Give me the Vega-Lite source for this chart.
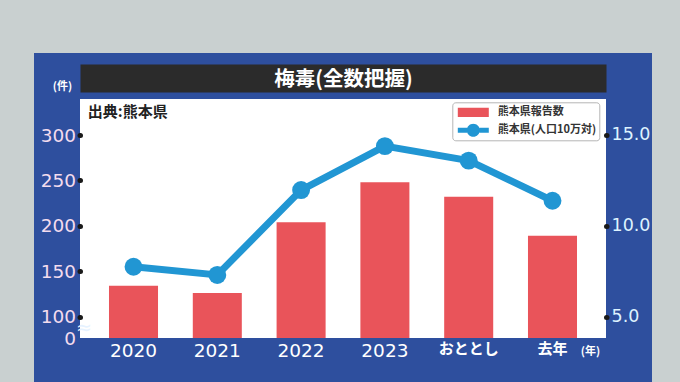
{
  "$schema": "https://vega.github.io/schema/vega-lite/v6.json",
  "autosize": "none",
  "width": 572,
  "height": 285,
  "padding": {"left": 57, "top": 76, "right": 51, "bottom": 21},
  "background": "#c9d0d0",
  "view": {"fill": "white", "stroke": "#2e4f9e", "strokeWidth": 46},
  "config": {"axis": {"grid": false}},
  "data": {"values": [
    {"year": "2020", "cases": 134, "rate": 7.75},
    {"year": "2021", "cases": 126, "rate": 7.3},
    {"year": "2022", "cases": 204, "rate": 11.97},
    {"year": "2023", "cases": 248, "rate": 14.39},
    {"year": "おととし", "cases": 232, "rate": 13.59},
    {"year": "去年", "cases": 189, "rate": 11.38}
  ]},
  "layer": [
    {
      "mark": {"type": "bar", "color": "#e9545a"},
      "encoding": {
        "x": {
          "field": "year", "type": "nominal",
          "scale": {"domain": ["2020", "2021", "2022", "2023", "おととし", "去年"], "range": [23, 549], "paddingInner": 0.415, "paddingOuter": 0.346},
          "axis": {
            "orient": "bottom", "offset": -23, "domain": false, "ticks": false, "labelAngle": 0,
            "labelColor": "white", "labelFont": "DejaVu Sans, Noto Sans CJK JP",
            "labelFontSize": {"condition": {"test": "datum.value == 'おととし' || datum.value == '去年'", "value": 15}, "value": 18.5},
            "labelFontWeight": {"condition": {"test": "datum.value == 'おととし' || datum.value == '去年'", "value": "bold"}, "value": "normal"},
            "labelPadding": 3,
            "title": "(年)", "titleX": 533, "titleY": 13, "titleAlign": "center", "titleBaseline": "middle", "titleAngle": 0,
            "titleColor": "white", "titleFont": "Noto Sans CJK JP", "titleFontSize": 11, "titleFontWeight": "bold"
          }
        },
        "y": {
          "field": "cases", "type": "quantitative",
          "scale": {"domain": [0, 100, 339.7], "range": [262, 240.7, 23], "zero": false, "nice": false},
          "axis": {
            "orient": "left", "offset": -23, "values": [0, 50, 100, 150, 200, 250, 300], "domain": false,
            "labelExpr": "datum.value == 50 ? '≈' : datum.label",
            "labelAlign": {"condition": {"test": "datum.value == 50", "value": "left"}, "value": "right"},
            "labelBaseline": "middle",
            "labelColor": {"condition": {"test": "datum.value == 50", "value": "#e6f2ff"}, "value": "#f3dcee"},
            "labelFont": "DejaVu Sans",
            "labelFontSize": {"condition": {"test": "datum.value == 50", "value": 19}, "value": 18.5},
            "labelPadding": 4, "labelOverlap": false, "labelFlush": false,
            "tickColor": {"condition": {"test": "datum.value == 0 || datum.value == 50", "value": "transparent"}, "value": "#1a1a1a"},
            "tickWidth": 5, "tickCap": "round", "tickSize": 0.5,
            "title": "(件)", "titleAngle": 0, "titleX": -18, "titleY": 10, "titleAlign": "center", "titleBaseline": "middle",
            "titleColor": "white", "titleFont": "Noto Sans CJK JP", "titleFontSize": 11, "titleFontWeight": "bold"
          }
        },
        "color": {
          "datum": "熊本県報告数", "type": "nominal",
          "scale": {"domain": ["熊本県報告数", "熊本県(人口10万対)"], "range": ["#e9545a", "#2196d3"]},
          "legend": {
            "orient": "none", "legendX": 395.3, "legendY": 26.3, "title": null, "direction": "vertical",
            "fillColor": "white", "strokeColor": "#b5b5b5", "cornerRadius": 3, "padding": 3,
            "clipHeight": 14, "rowPadding": 4, "symbolSize": 961, "symbolOffset": 2.5, "labelOffset": 9,
            "labelFont": "Noto Sans CJK JP", "labelFontSize": 11, "labelFontWeight": "bold", "labelColor": "#333333",
            "encode": {
              "symbols": {
                "update": {
                  "shape": {"signal": "datum.value === '熊本県報告数' ? 'M-1,-0.3H1V0.3H-1Z' : 'M-1,-0.16H-0.4V0.16H-1Z M0.4,-0.16H1V0.16H0.4Z M0.42,0A0.42,0.42 0 1,1 -0.42,0A0.42,0.42 0 1,1 0.42,0Z'"},
                  "fill": {"signal": "scale('color', datum.value)"},
                  "stroke": {"value": "transparent"},
                  "strokeWidth": {"value": 0},
                  "opacity": {"value": 1}
                }
              }
            }
          }
        }
      }
    },
    {
      "mark": {"type": "line", "strokeWidth": 7, "point": {"filled": true, "size": 320}},
      "encoding": {
        "x": {
          "field": "year", "type": "nominal",
          "scale": {"domain": ["2020", "2021", "2022", "2023", "おととし", "去年"], "range": [23, 549], "paddingInner": 0.415, "paddingOuter": 0.346},
          "axis": {
            "orient": "top", "offset": -2, "labels": false, "ticks": false,
            "domain": true, "domainColor": "#2b2b2b", "domainWidth": 28,
            "title": "梅毒(全数把握)", "titleY": 1, "titleBaseline": "middle", "titleAlign": "center",
            "titleColor": "white", "titleFont": "Noto Sans CJK JP", "titleFontSize": 20.5, "titleFontWeight": "bold"
          }
        },
        "y": {
          "field": "rate", "type": "quantitative",
          "scale": {"domain": [3.83, 16.98], "range": [262, 23], "zero": false, "nice": false},
          "axis": {
            "orient": "right", "offset": -23, "values": [5, 10, 15], "format": ".1f", "domain": false,
            "labelColor": "#def3ff", "labelFont": "DejaVu Sans", "labelFontSize": 17.5, "labelPadding": 4.5, "labelBaseline": "middle",
            "tickColor": "#1a1a1a", "tickWidth": 5, "tickCap": "round", "tickSize": 0.5,
            "title": "出典:熊本県", "titleAngle": 0, "titleX": -518.7, "titleY": 35, "titleAlign": "left", "titleBaseline": "middle",
            "titleColor": "#222222", "titleFont": "Noto Sans CJK JP", "titleFontSize": 15, "titleFontWeight": "bold"
          }
        },
        "color": {"datum": "熊本県(人口10万対)", "type": "nominal"}
      }
    }
  ],
  "resolve": {"scale": {"y": "independent"}, "axis": {"x": "independent"}}
}
